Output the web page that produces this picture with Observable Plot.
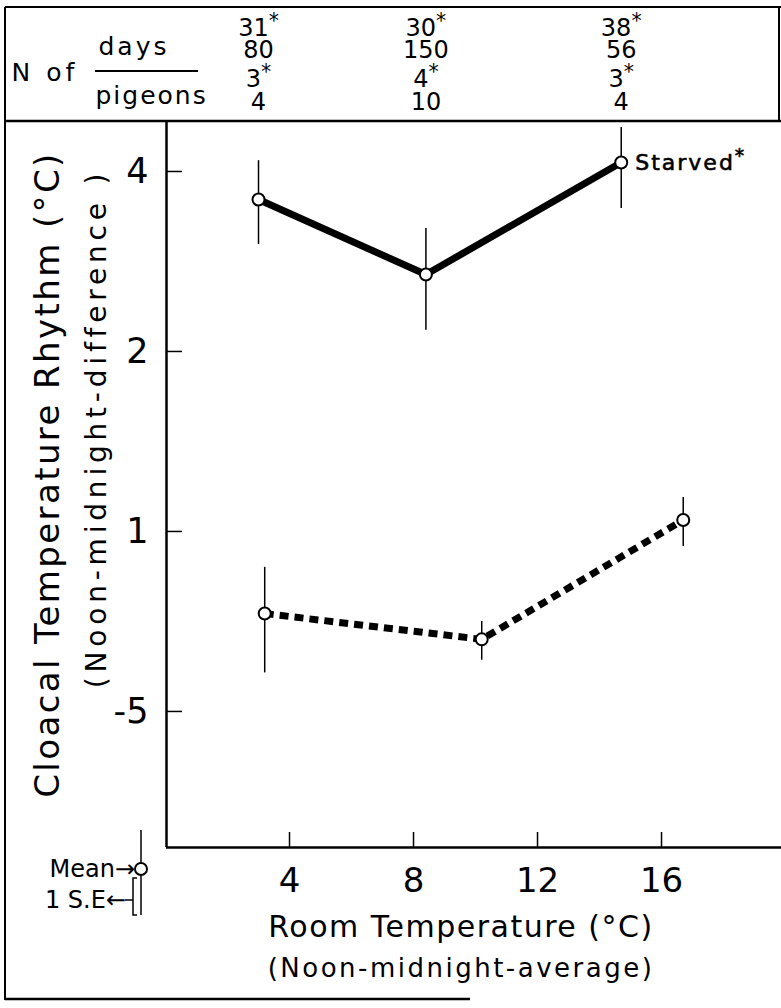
<!DOCTYPE html>
<html><head><meta charset="utf-8">
<script src="https://cdn.jsdelivr.net/npm/d3@7"></script>
<script src="https://cdn.jsdelivr.net/npm/@observablehq/plot@0.6"></script>
<style>body{margin:0;background:#fff} svg{display:block}</style>
</head><body><div id="chart"></div>
<script>
// ---- data ----
const roomTempStarved = [3.0, 8.4, 14.7];
const rhythmStarved   = [3.59, 2.69, 4.14];
const seLowStarved    = [3.02, 2.17, 3.47];
const seHighStarved   = [4.17, 3.21, 4.74];
const roomTempFed = [3.2, 10.2, 16.7];
const rhythmFed   = [0.729, 0.660, 1.045];
const seLowFed    = [0.580, 0.609, 0.944];
const seHighFed   = [0.871, 0.707, 1.140];
const daysStarved    = ["31*", "30*", "38*"];
const daysFed        = ["80", "150", "56"];
const pigeonsStarved = ["3*", "4*", "3*"];
const pigeonsFed     = ["4", "10", "4"];
const xTicks = [4, 8, 12, 16];
const yTicks = [4, 2, 1, 0.5];
const yTickLabels = ["4", "2", "1", "-5"];
const seriesLabel = "Starved*";
const xTitle = "Room Temperature (°C)";
const xSubtitle = "(Noon-midnight-average)";
const yTitle = "Cloacal Temperature Rhythm (°C)";
const ySubtitle = "(Noon-midnight-difference )";

// ---- layout ----
const W = 781, H = 1008, mt = 121, mb = 161, ml = 166, mr = 0;
const plotW = W - ml - mr, plotH = H - mt - mb;
const xDomain = [0.032, 19.87];
const yDomain = [0.2961, 4.849];
const font = "'DejaVu Sans', sans-serif";

const starved = roomTempStarved.map((x, i) => ({x, y: rhythmStarved[i], lo: seLowStarved[i], hi: seHighStarved[i]}));
const fed = roomTempFed.map((x, i) => ({x, y: rhythmFed[i], lo: seLowFed[i], hi: seHighFed[i]}));
const header = roomTempStarved.map((x, i) => ({x, a: daysStarved[i], b: daysFed[i], c: pigeonsStarved[i], d: pigeonsFed[i]}));

const hdr = (key, dy) => Plot.text(header, {x: "x", text: key, frameAnchor: "top", lineAnchor: "middle", dy, fontSize: 24, fill: "black"});
const lbl = (s, o) => Plot.text([s], Object.assign({text: d => d, lineAnchor: "middle", fill: "black"}, o));

const plot = Plot.plot({
  width: W, height: H, marginTop: mt, marginBottom: mb, marginLeft: ml, marginRight: mr,
  style: {fontFamily: font, background: "white", color: "black", overflow: "visible"},
  x: {domain: xDomain},
  y: {type: "log", domain: yDomain},
  marks: [
    Plot.axisX(xTicks, {tickSize: 0, tickPadding: 20, fontSize: 34, label: null}),
    Plot.axisY(yTicks, {tickSize: 0, tickPadding: 18, fontSize: 35, label: null,
      tickFormat: d => yTickLabels[yTicks.indexOf(d)]}),
    Plot.ruleX([xDomain[0]], {strokeWidth: 2.5}),
    Plot.ruleY([yDomain[0]], {strokeWidth: 2.5}),
    Plot.ruleX(xTicks, {x: d => d, insetTop: plotH - 15, strokeWidth: 1.5}),
    Plot.ruleY(yTicks, {y: d => d, insetRight: plotW - 16, strokeWidth: 1.5}),
    Plot.ruleX(starved, {x: "x", y1: "lo", y2: "hi", strokeWidth: 1.5}),
    Plot.ruleX(fed, {x: "x", y1: "lo", y2: "hi", strokeWidth: 1.5}),
    Plot.line(starved, {x: "x", y: "y", strokeWidth: 7, stroke: "black"}),
    Plot.line(fed, {x: "x", y: "y", strokeWidth: 7, stroke: "black", strokeDasharray: "9,6", strokeLinecap: "butt", strokeLinejoin: "miter"}),
    Plot.dot(starved.concat(fed), {x: "x", y: "y", r: 6, fill: "white", stroke: "black", strokeWidth: 2}),
    Plot.text([starved[starved.length - 1]], {x: "x", y: "y", text: () => seriesLabel, dx: 14, textAnchor: "start",
      fontSize: 22, fill: "black", stroke: "black", strokeWidth: 0.6}),
    hdr("a", -93), hdr("b", -71), hdr("c", -42), hdr("d", -19),
    lbl("N of", {frameAnchor: "top-left", dx: -155, dy: -49, textAnchor: "start", fontSize: 25}),
    lbl("days", {frameAnchor: "top-left", dx: -68, dy: -75, textAnchor: "start", fontSize: 25}),
    lbl("pigeons", {frameAnchor: "top-left", dx: -71, dy: -26, textAnchor: "start", fontSize: 25}),
    lbl(xTitle, {frameAnchor: "bottom", textAnchor: "middle", dx: -13, dy: 80, fontSize: 30}),
    lbl(xSubtitle, {frameAnchor: "bottom", textAnchor: "middle", dx: -13, dy: 121, fontSize: 26}),
    lbl(yTitle, {frameAnchor: "left", textAnchor: "middle", rotate: -90, dx: -118, dy: -10, fontSize: 34}),
    lbl(ySubtitle, {frameAnchor: "left", textAnchor: "middle", rotate: -90, dx: -69, dy: -56, fontSize: 28})
  ]
});
document.getElementById("chart").appendChild(plot);

const svg = d3.select(plot);
// letter spacing to match the wide lettering of the original
const spacing = {"N of": 4, "days": 3, "pigeons": 2}; spacing[xTitle] = 1.5; spacing[xSubtitle] = 2.5;
spacing[yTitle] = 2.4; spacing[ySubtitle] = 4.8; spacing[seriesLabel] = 2;
svg.selectAll("text").each(function () {
  const t = this.textContent;
  if (spacing[t] != null) d3.select(this).style("letter-spacing", spacing[t] + "px");
});
// superscript asterisks
svg.selectAll("text").each(function () {
  const t = this.textContent;
  if (t.length > 1 && t.endsWith("*") && this.childElementCount === 0) {
    const sel = d3.select(this);
    sel.text(t.slice(0, -1));
    sel.append("tspan").attr("dy", "-0.4em").attr("font-size", "0.85em").text("*");
  }
});

// frame / decorations
const g = svg.append("g").attr("stroke", "black").attr("fill", "none");
g.append("line").attr("x1", 5).attr("x2", 5).attr("y1", 7).attr("y2", 1000).attr("stroke-width", 2);
g.append("line").attr("x1", 5).attr("x2", 781).attr("y1", 7).attr("y2", 7).attr("stroke-width", 2);
g.append("line").attr("x1", 5).attr("x2", 781).attr("y1", 121).attr("y2", 121).attr("stroke-width", 2.5);
g.append("line").attr("x1", 779).attr("x2", 779).attr("y1", 7).attr("y2", 121).attr("stroke-width", 2);
g.append("line").attr("x1", 5).attr("x2", 470).attr("y1", 999).attr("y2", 999).attr("stroke-width", 2.5);
g.append("line").attr("x1", 95).attr("x2", 198).attr("y1", 71).attr("y2", 71).attr("stroke-width", 2);
// mean / SE key
g.append("line").attr("x1", 141).attr("x2", 141).attr("y1", 830).attr("y2", 915).attr("stroke-width", 1.5);
g.append("path").attr("d", "M137,878H133V915H137").attr("stroke-width", 1.5);
g.append("line").attr("x1", 125).attr("x2", 133).attr("y1", 900).attr("y2", 900).attr("stroke-width", 1.5);
g.append("circle").attr("cx", 141).attr("cy", 869).attr("r", 6).attr("fill", "white").attr("stroke-width", 2);
const kt = svg.append("g").attr("font-family", font).attr("font-size", 24).attr("fill", "black").attr("text-anchor", "end");
kt.append("text").attr("x", 135).attr("y", 877).text("Mean→");
kt.append("text").attr("x", 126).attr("y", 908).text("1 S.E←");
</script></body></html>
